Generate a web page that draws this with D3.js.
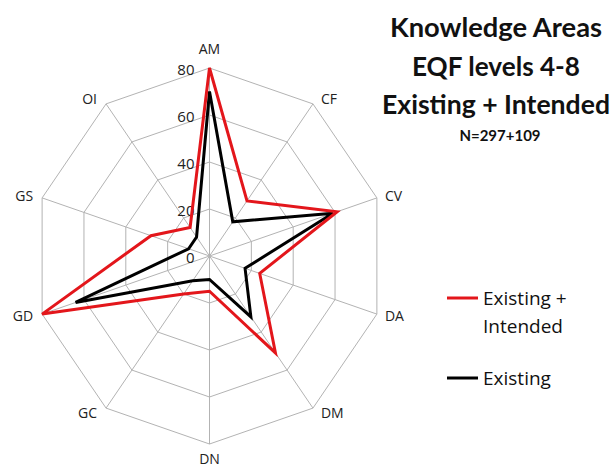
<!DOCTYPE html>
<html>
<head>
<meta charset="utf-8">
<script src="https://cdn.jsdelivr.net/npm/d3@7"></script>
<style>
  body { margin: 0; background: #fff; }
  svg { display: block; }
</style>
</head>
<body>
<div id="chart"></div>
<script>
// Data
const axes = ['AM', 'CF', 'CV', 'DA', 'DM', 'DN', 'GC', 'GD', 'GS', 'OI']
const existingIntended = [80, 29, 61, 24, 51, 15, 20, 80, 28, 15]
const existing = [70, 18, 59, 17, 32, 10, 13, 64, 10, 10]
const ticks = [0, 20, 40, 60, 80]
const titleLines = ['Knowledge Areas', 'EQF levels 4-8', 'Existing + Intended']
const subtitle = 'N=297+109'

const width = 616
const height = 470
const cx = 209.5
const cy = 256
const rx = 176
const ry = 188

const svg = d3.select('#chart')
  .append('svg')
  .attr('width', width)
  .attr('height', height)
  .style('font-family', '"Open Sans", sans-serif')

// Radial scales (the picture is a bit squeezed horizontally)
const xr = d3.scaleLinear().domain([0, 80]).range([0, rx])
const yr = d3.scaleLinear().domain([0, 80]).range([0, ry])
const angle = d3.scaleLinear().domain([0, axes.length]).range([0, 2 * Math.PI])

const px = (i, v) => cx + xr(v) * Math.sin(angle(i))
const py = (i, v) => cy - yr(v) * Math.cos(angle(i))

const g = svg.append('g')

// Grid rings
const ring = d3.line()
  .x(d => px(d.i, d.v))
  .y(d => py(d.i, d.v))
  .curve(d3.curveLinearClosed)

ticks.filter(t => t > 0).forEach(t => {
  g.append('path')
    .datum(axes.map((a, i) => ({ i, v: t })))
    .attr('d', ring)
    .attr('fill', 'none')
    .attr('stroke', '#b3b3b3')
    .attr('stroke-width', 1)
})

// Spokes
g.selectAll('.spoke')
  .data(axes)
  .join('line')
  .attr('class', 'spoke')
  .attr('x1', cx)
  .attr('y1', cy)
  .attr('x2', (d, i) => px(i, 80))
  .attr('y2', (d, i) => py(i, 80))
  .attr('stroke', '#b3b3b3')
  .attr('stroke-width', 1)

// Tick labels on the AM axis
g.selectAll('.tick-label')
  .data(ticks)
  .join('text')
  .attr('class', 'tick-label')
  .attr('x', cx - 15)
  .attr('y', d => py(0, d) + 2)
  .attr('dy', '0.35em')
  .attr('text-anchor', 'end')
  .attr('font-size', 15)
  .attr('fill', '#222')
  .text(d => d)

// Axis labels
g.selectAll('.axis-label')
  .data(axes)
  .join('text')
  .attr('class', 'axis-label')
  .attr('x', (d, i) => {
    const s = Math.sin(angle(i))
    if (Math.abs(s) < 0.1) return px(i, 80)
    return px(i, 80) + (s > 0 ? 8 : -9)
  })
  .attr('y', (d, i) => {
    const c = Math.cos(angle(i))
    if (Math.abs(Math.sin(angle(i))) < 0.1) return py(i, 80) - c * (c > 0 ? 19 : 15)
    return py(i, 80) - c * 6
  })
  .attr('dy', '0.35em')
  .attr('text-anchor', (d, i) => {
    const s = Math.sin(angle(i))
    if (Math.abs(s) < 0.1) return 'middle'
    return s > 0 ? 'start' : 'end'
  })
  .attr('font-size', 14)
  .attr('fill', '#222')
  .text(d => d)

// Series
const series = [
  { name: 'Existing', values: existing, color: '#000000' },
  { name: 'Existing + Intended', values: existingIntended, color: '#e3161b' }
]

const radarLine = d3.line()
  .x((d, i) => px(i, d))
  .y((d, i) => py(i, d))
  .curve(d3.curveLinearClosed)

g.selectAll('.series')
  .data(series)
  .join('path')
  .attr('class', 'series')
  .attr('d', d => radarLine(d.values))
  .attr('fill', 'none')
  .attr('stroke', d => d.color)
  .attr('stroke-width', 3)
  .attr('stroke-linejoin', 'miter')

// Title
const titleX = [496, 496, 496]
const titleY = [37, 76, 114]
const titleW = [212, 168, 228]
svg.selectAll('.title')
  .data(titleLines)
  .join('text')
  .attr('class', 'title')
  .attr('x', (d, i) => titleX[i])
  .attr('y', (d, i) => titleY[i])
  .attr('text-anchor', 'middle')
  .attr('font-family', 'Lato, sans-serif')
  .attr('font-size', 27)
  .attr('font-weight', 'bold')
  .attr('textLength', (d, i) => titleW[i])
  .attr('lengthAdjust', 'spacingAndGlyphs')
  .attr('fill', '#111')
  .text(d => d)

svg.append('text')
  .attr('x', 500)
  .attr('y', 141)
  .attr('text-anchor', 'middle')
  .attr('font-family', 'Lato, sans-serif')
  .attr('font-size', 15)
  .attr('font-weight', 'bold')
  .attr('fill', '#111')
  .text(subtitle)

// Legend
const legend = svg.append('g').attr('font-size', 19).attr('fill', '#111')
legend.append('line')
  .attr('x1', 447).attr('x2', 478).attr('y1', 298).attr('y2', 298)
  .attr('stroke', '#e3161b').attr('stroke-width', 3)
legend.append('text').attr('x', 483).attr('y', 305).text('Existing +')
legend.append('text').attr('x', 483).attr('y', 333).text('Intended')
legend.append('line')
  .attr('x1', 447).attr('x2', 478).attr('y1', 378).attr('y2', 378)
  .attr('stroke', '#000').attr('stroke-width', 3)
legend.append('text').attr('x', 483).attr('y', 385).text('Existing')
</script>
</body>
</html>
